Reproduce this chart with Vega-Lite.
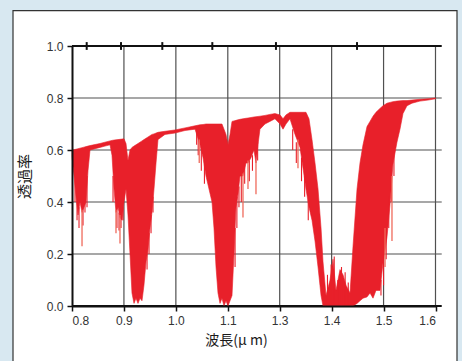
{
  "$schema": "https://vega.github.io/schema/vega-lite/v6.json",
  "width": 363.5,
  "height": 260,
  "autosize": {"type": "none"},
  "padding": {"left": 72, "top": 46, "right": 26.5, "bottom": 55},
  "background": "#d8e8f1",
  "config": {
    "view": {"stroke": null},
    "font": "Liberation Sans",
    "axis": {"grid": false, "domainColor": "#111", "domainWidth": 2, "tickColor": "#111", "tickWidth": 1.5, "tickSize": 5, "labelFont": "Liberation Sans", "labelFontSize": 12, "labelColor": "#333", "titleFont": "Noto Sans CJK JP", "titleFontWeight": "normal", "titleColor": "#1a1a1a"}
  },
  "datasets": {
    "spectrum": [
      {"w": 0.8000, "hi": 0.600, "lo": 0.575},
      {"w": 0.8039, "hi": 0.601, "lo": 0.50},
      {"w": 0.8077, "hi": 0.603, "lo": 0.42},
      {"w": 0.8116, "hi": 0.605, "lo": 0.35},
      {"w": 0.8154, "hi": 0.607, "lo": 0.40},
      {"w": 0.8193, "hi": 0.609, "lo": 0.36},
      {"w": 0.8231, "hi": 0.611, "lo": 0.38},
      {"w": 0.8270, "hi": 0.613, "lo": 0.40},
      {"w": 0.8308, "hi": 0.615, "lo": 0.52},
      {"w": 0.8347, "hi": 0.617, "lo": 0.60},
      {"w": 0.8443, "hi": 0.621, "lo": 0.605},
      {"w": 0.8539, "hi": 0.625, "lo": 0.61},
      {"w": 0.8635, "hi": 0.630, "lo": 0.615},
      {"w": 0.8732, "hi": 0.635, "lo": 0.62},
      {"w": 0.8770, "hi": 0.637, "lo": 0.58},
      {"w": 0.8809, "hi": 0.638, "lo": 0.45},
      {"w": 0.8847, "hi": 0.639, "lo": 0.36},
      {"w": 0.8886, "hi": 0.640, "lo": 0.38},
      {"w": 0.8924, "hi": 0.641, "lo": 0.34},
      {"w": 0.8963, "hi": 0.642, "lo": 0.33},
      {"w": 0.9001, "hi": 0.643, "lo": 0.40},
      {"w": 0.9040, "hi": 0.625, "lo": 0.45},
      {"w": 0.9078, "hi": 0.56, "lo": 0.35},
      {"w": 0.9117, "hi": 0.60, "lo": 0.20},
      {"w": 0.9155, "hi": 0.61, "lo": 0.05},
      {"w": 0.9194, "hi": 0.615, "lo": 0.01},
      {"w": 0.9232, "hi": 0.62, "lo": 0.03},
      {"w": 0.9271, "hi": 0.625, "lo": 0.01},
      {"w": 0.9309, "hi": 0.63, "lo": 0.03},
      {"w": 0.9348, "hi": 0.635, "lo": 0.02},
      {"w": 0.9386, "hi": 0.64, "lo": 0.08},
      {"w": 0.9425, "hi": 0.645, "lo": 0.17},
      {"w": 0.9464, "hi": 0.65, "lo": 0.22},
      {"w": 0.9502, "hi": 0.655, "lo": 0.30},
      {"w": 0.9541, "hi": 0.66, "lo": 0.36},
      {"w": 0.9579, "hi": 0.662, "lo": 0.45},
      {"w": 0.9618, "hi": 0.665, "lo": 0.55},
      {"w": 0.9656, "hi": 0.668, "lo": 0.64},
      {"w": 0.9791, "hi": 0.672, "lo": 0.66},
      {"w": 0.9983, "hi": 0.677, "lo": 0.665},
      {"w": 1.0176, "hi": 0.685, "lo": 0.675},
      {"w": 1.0369, "hi": 0.693, "lo": 0.68},
      {"w": 1.0465, "hi": 0.697, "lo": 0.62},
      {"w": 1.0523, "hi": 0.698, "lo": 0.57},
      {"w": 1.0580, "hi": 0.700, "lo": 0.50},
      {"w": 1.0638, "hi": 0.700, "lo": 0.45},
      {"w": 1.0696, "hi": 0.700, "lo": 0.40},
      {"w": 1.0734, "hi": 0.70, "lo": 0.30},
      {"w": 1.0773, "hi": 0.70, "lo": 0.15},
      {"w": 1.0811, "hi": 0.70, "lo": 0.05},
      {"w": 1.0850, "hi": 0.70, "lo": 0.01},
      {"w": 1.0888, "hi": 0.70, "lo": 0.03},
      {"w": 1.0927, "hi": 0.68, "lo": 0.00},
      {"w": 1.0965, "hi": 0.66, "lo": 0.02},
      {"w": 1.1008, "hi": 0.62, "lo": 0.00},
      {"w": 1.1085, "hi": 0.66, "lo": 0.02},
      {"w": 1.1162, "hi": 0.71, "lo": 0.04},
      {"w": 1.1239, "hi": 0.712, "lo": 0.20},
      {"w": 1.1316, "hi": 0.714, "lo": 0.38},
      {"w": 1.1393, "hi": 0.716, "lo": 0.43},
      {"w": 1.1470, "hi": 0.718, "lo": 0.50},
      {"w": 1.1585, "hi": 0.720, "lo": 0.50},
      {"w": 1.1701, "hi": 0.722, "lo": 0.55},
      {"w": 1.1778, "hi": 0.723, "lo": 0.55},
      {"w": 1.1893, "hi": 0.725, "lo": 0.57},
      {"w": 1.2009, "hi": 0.727, "lo": 0.60},
      {"w": 1.2086, "hi": 0.728, "lo": 0.55},
      {"w": 1.2163, "hi": 0.729, "lo": 0.62},
      {"w": 1.2240, "hi": 0.730, "lo": 0.68},
      {"w": 1.2432, "hi": 0.733, "lo": 0.70},
      {"w": 1.2625, "hi": 0.737, "lo": 0.71},
      {"w": 1.2817, "hi": 0.740, "lo": 0.72},
      {"w": 1.3006, "hi": 0.735, "lo": 0.70},
      {"w": 1.3064, "hi": 0.72, "lo": 0.68},
      {"w": 1.3121, "hi": 0.735, "lo": 0.70},
      {"w": 1.3198, "hi": 0.745, "lo": 0.72},
      {"w": 1.3295, "hi": 0.745, "lo": 0.66},
      {"w": 1.3391, "hi": 0.745, "lo": 0.61},
      {"w": 1.3449, "hi": 0.745, "lo": 0.53},
      {"w": 1.3506, "hi": 0.745, "lo": 0.45},
      {"w": 1.3564, "hi": 0.72, "lo": 0.38},
      {"w": 1.3622, "hi": 0.64, "lo": 0.33},
      {"w": 1.3680, "hi": 0.55, "lo": 0.25},
      {"w": 1.3738, "hi": 0.45, "lo": 0.15},
      {"w": 1.3796, "hi": 0.30, "lo": 0.04},
      {"w": 1.3834, "hi": 0.17, "lo": 0.00},
      {"w": 1.3892, "hi": 0.04, "lo": 0.00},
      {"w": 1.3969, "hi": 0.10, "lo": 0.00},
      {"w": 1.4026, "hi": 0.18, "lo": 0.00},
      {"w": 1.4084, "hi": 0.06, "lo": 0.00},
      {"w": 1.4161, "hi": 0.14, "lo": 0.00},
      {"w": 1.4219, "hi": 0.12, "lo": 0.00},
      {"w": 1.4277, "hi": 0.08, "lo": 0.00},
      {"w": 1.4354, "hi": 0.05, "lo": 0.00},
      {"w": 1.4412, "hi": 0.23, "lo": 0.00},
      {"w": 1.4489, "hi": 0.45, "lo": 0.01},
      {"w": 1.4546, "hi": 0.55, "lo": 0.02},
      {"w": 1.4604, "hi": 0.62, "lo": 0.03},
      {"w": 1.4681, "hi": 0.69, "lo": 0.035},
      {"w": 1.4739, "hi": 0.71, "lo": 0.05},
      {"w": 1.4797, "hi": 0.73, "lo": 0.03},
      {"w": 1.4854, "hi": 0.745, "lo": 0.06},
      {"w": 1.4931, "hi": 0.76, "lo": 0.06},
      {"w": 1.4989, "hi": 0.77, "lo": 0.165},
      {"w": 1.5066, "hi": 0.78, "lo": 0.265},
      {"w": 1.5124, "hi": 0.783, "lo": 0.39},
      {"w": 1.5181, "hi": 0.786, "lo": 0.545},
      {"w": 1.5258, "hi": 0.788, "lo": 0.63},
      {"w": 1.5316, "hi": 0.789, "lo": 0.68},
      {"w": 1.5374, "hi": 0.790, "lo": 0.74},
      {"w": 1.5451, "hi": 0.790, "lo": 0.77},
      {"w": 1.5547, "hi": 0.792, "lo": 0.78},
      {"w": 1.5701, "hi": 0.795, "lo": 0.788},
      {"w": 1.5855, "hi": 0.797, "lo": 0.792},
      {"w": 1.6000, "hi": 0.800, "lo": 0.797}
    ],
    "spikesDark": [
      {"w": 0.8058, "top": 0.50, "bot": 0.40},
      {"w": 0.8097, "top": 0.42, "bot": 0.33},
      {"w": 0.8135, "top": 0.38, "bot": 0.30},
      {"w": 0.8212, "top": 0.40, "bot": 0.31},
      {"w": 0.8250, "top": 0.42, "bot": 0.36},
      {"w": 0.8289, "top": 0.50, "bot": 0.38},
      {"w": 0.8790, "top": 0.50, "bot": 0.40},
      {"w": 0.8866, "top": 0.38, "bot": 0.30},
      {"w": 0.8905, "top": 0.36, "bot": 0.29},
      {"w": 0.8944, "top": 0.35, "bot": 0.30},
      {"w": 0.8982, "top": 0.38, "bot": 0.33},
      {"w": 0.9445, "top": 0.22, "bot": 0.14},
      {"w": 0.9483, "top": 0.28, "bot": 0.20},
      {"w": 0.9522, "top": 0.35, "bot": 0.28},
      {"w": 0.9560, "top": 0.42, "bot": 0.36},
      {"w": 1.0400, "top": 0.68, "bot": 0.62},
      {"w": 1.0430, "top": 0.67, "bot": 0.58},
      {"w": 1.0490, "top": 0.62, "bot": 0.52},
      {"w": 1.0550, "top": 0.56, "bot": 0.47},
      {"w": 1.1280, "top": 0.30, "bot": 0.15},
      {"w": 1.1350, "top": 0.42, "bot": 0.30},
      {"w": 1.1430, "top": 0.46, "bot": 0.38},
      {"w": 1.1520, "top": 0.50, "bot": 0.40},
      {"w": 1.1650, "top": 0.55, "bot": 0.47},
      {"w": 1.1830, "top": 0.56, "bot": 0.48},
      {"w": 1.1950, "top": 0.58, "bot": 0.52},
      {"w": 1.2150, "top": 0.63, "bot": 0.56},
      {"w": 1.3250, "top": 0.68, "bot": 0.60},
      {"w": 1.3320, "top": 0.63, "bot": 0.55},
      {"w": 1.3420, "top": 0.57, "bot": 0.48},
      {"w": 1.3480, "top": 0.50, "bot": 0.42},
      {"w": 1.3550, "top": 0.41, "bot": 0.33},
      {"w": 1.3920, "top": 0.12, "bot": 0.0},
      {"w": 1.3990, "top": 0.16, "bot": 0.0},
      {"w": 1.4050, "top": 0.19, "bot": 0.0},
      {"w": 1.4120, "top": 0.10, "bot": 0.0},
      {"w": 1.4190, "top": 0.15, "bot": 0.0},
      {"w": 1.4260, "top": 0.13, "bot": 0.0},
      {"w": 1.4320, "top": 0.09, "bot": 0.0},
      {"w": 1.4950, "top": 0.10, "bot": 0.04},
      {"w": 1.5000, "top": 0.20, "bot": 0.08},
      {"w": 1.5050, "top": 0.30, "bot": 0.18},
      {"w": 1.5100, "top": 0.42, "bot": 0.30},
      {"w": 1.5150, "top": 0.55, "bot": 0.40},
      {"w": 1.5200, "top": 0.60, "bot": 0.50}
    ],
    "spikesLight": [
      {"w": 0.8193, "top": 0.37, "bot": 0.23},
      {"w": 0.8847, "top": 0.37, "bot": 0.28},
      {"w": 0.8924, "top": 0.35, "bot": 0.24},
      {"w": 1.0450, "top": 0.64, "bot": 0.55},
      {"w": 1.1585, "top": 0.51, "bot": 0.34},
      {"w": 1.1778, "top": 0.56, "bot": 0.45},
      {"w": 1.2086, "top": 0.56, "bot": 0.43},
      {"w": 1.3352, "top": 0.64, "bot": 0.53},
      {"w": 1.5028, "top": 0.30, "bot": 0.15},
      {"w": 1.5162, "top": 0.50, "bot": 0.25}
    ],
    "gridx": [{"g": 0.9}, {"g": 1.0}, {"g": 1.1}, {"g": 1.3}, {"g": 1.4}, {"g": 1.5}, {"g": 1.6}],
    "gridy": [{"g": 0.2}, {"g": 0.4}, {"g": 0.6}, {"g": 0.8}],
    "frame": [{"g": 0.0}, {"g": 1.0}],
    "topticks": [{"t": 0.8283}, {"t": 0.8944}, {"t": 0.9739}, {"t": 1.0702}, {"t": 1.2856}, {"t": 1.4489}]
  },
  "layer": [
    {
      "data": {"values": [{}]},
      "mark": {"type": "rect", "fill": "white", "stroke": "#333", "strokeWidth": 1.2, "clip": false},
      "encoding": {
        "x": {"datum": 0.6864, "type": "quantitative",
          "scale": {"domain": [0.8, 1.1, 1.3, 1.6], "range": [0, 155.8, 207.7, 363.5], "nice": false, "zero": false},
          "axis": {"zindex": 2, "values": [0.8, 0.9, 1.0, 1.1, 1.3, 1.4, 1.5, 1.6], "format": ".1f", "labelPadding": 4, "title": "波長(μ m)", "titleFontSize": 14, "titlePadding": 7, "titleX": 164}},
        "x2": {"datum": 1.6414},
        "y": {"datum": 1.136, "type": "quantitative",
          "scale": {"domain": [0, 1], "nice": false, "zero": false},
          "axis": {"zindex": 2, "values": [0, 0.2, 0.4, 0.6, 0.8, 1.0], "format": ".1f", "labelPadding": 4, "title": "透過率", "titleFontSize": 15, "titlePadding": 14}},
        "y2": {"datum": -0.3}
      }
    },
    {
      "data": {"name": "gridx"},
      "mark": {"type": "rule", "color": "#505050", "strokeWidth": 1.2},
      "encoding": {
        "x": {"field": "g", "type": "quantitative"},
        "y": {"datum": 0},
        "y2": {"datum": 1}
      }
    },
    {
      "data": {"name": "gridy"},
      "mark": {"type": "rule", "color": "#505050", "strokeWidth": 1.2, "clip": false},
      "encoding": {
        "y": {"field": "g", "type": "quantitative"},
        "x": {"datum": 0.8},
        "x2": {"datum": 1.612}
      }
    },
    {
      "data": {"name": "frame"},
      "mark": {"type": "rule", "color": "#111", "strokeWidth": 2, "clip": false},
      "encoding": {
        "y": {"field": "g", "type": "quantitative"},
        "x": {"datum": 0.8},
        "x2": {"datum": 1.612}
      }
    },
    {
      "data": {"name": "spectrum"},
      "mark": {"type": "area", "color": "#e8202a", "stroke": "#e8202a", "strokeWidth": 0.6},
      "encoding": {
        "x": {"field": "w", "type": "quantitative"},
        "y": {"field": "hi", "type": "quantitative"},
        "y2": {"field": "lo"}
      }
    },
    {
      "data": {"name": "spikesDark"},
      "mark": {"type": "rule", "color": "#e8202a", "strokeWidth": 1.1},
      "encoding": {
        "x": {"field": "w", "type": "quantitative"},
        "y": {"field": "top", "type": "quantitative"},
        "y2": {"field": "bot"}
      }
    },
    {
      "data": {"name": "spikesLight"},
      "mark": {"type": "rule", "color": "#ef6a5c", "strokeWidth": 1.3},
      "encoding": {
        "x": {"field": "w", "type": "quantitative"},
        "y": {"field": "top", "type": "quantitative"},
        "y2": {"field": "bot"}
      }
    },
    {
      "data": {"name": "topticks"},
      "mark": {"type": "rule", "color": "#111", "strokeWidth": 2},
      "encoding": {
        "x": {"field": "t", "type": "quantitative"},
        "y": {"datum": 0.985},
        "y2": {"datum": 1.015}
      }
    }
  ]
}
